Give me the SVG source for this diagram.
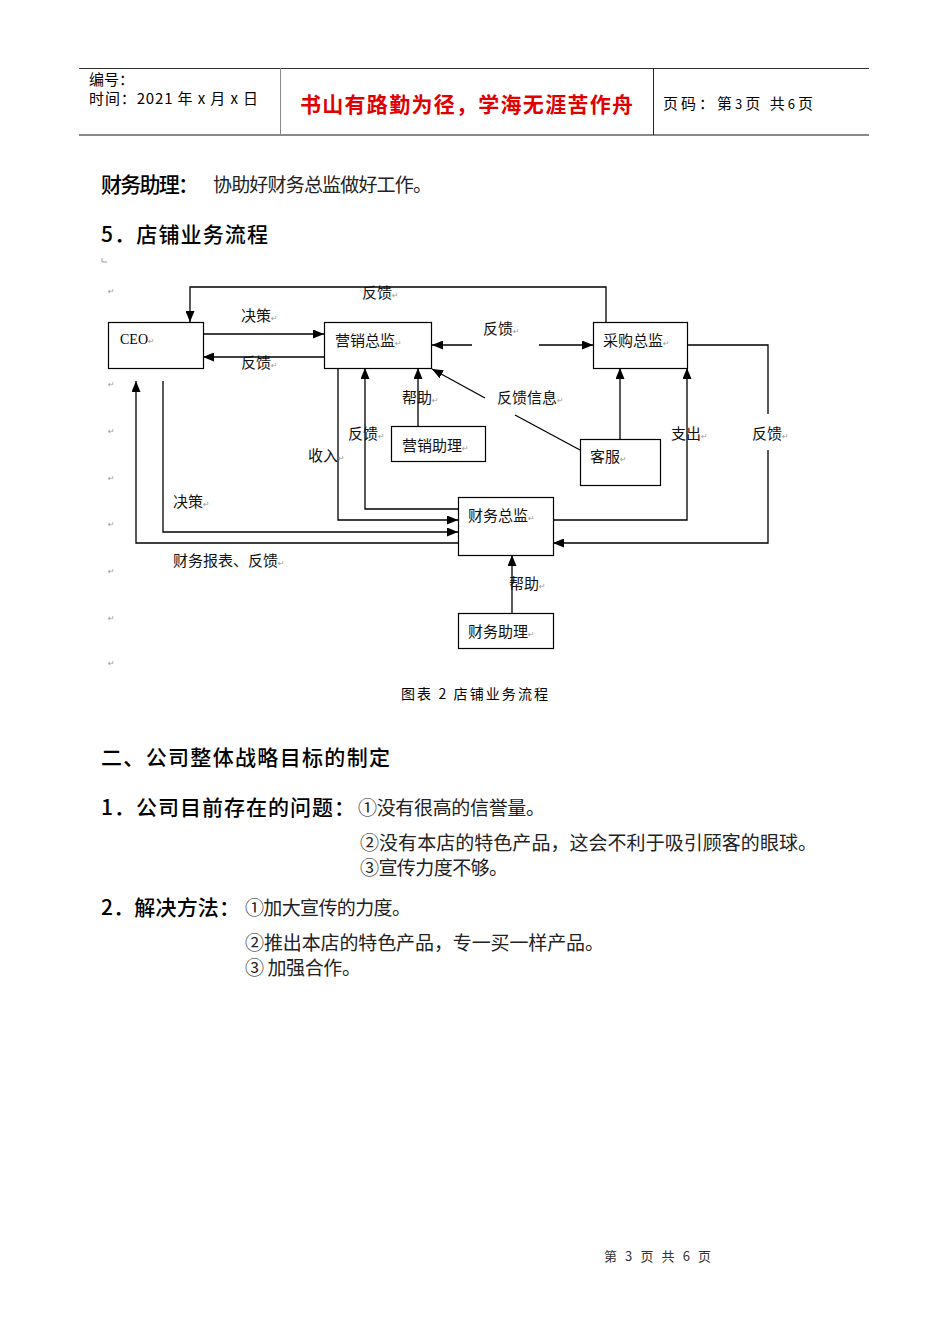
<svg xmlns="http://www.w3.org/2000/svg" width="950" height="1344" viewBox="0 0 950 1344">
<style>
.hd{font-family:"Noto Sans CJK SC","Noto Sans",sans-serif;font-size:21px;font-weight:500;fill:#000}
.bd{font-family:"Noto Sans CJK SC",sans-serif;font-size:19px;fill:#222}
.lb{font-family:"Noto Sans CJK SC",sans-serif;font-size:15px;fill:#111}
.pm{font-family:"DejaVu Sans",sans-serif;font-size:8px;fill:#999}
.box{fill:#fff;stroke:#000;stroke-width:1.2}
.cn{fill:none;stroke:#000;stroke-width:1.3}
.ar{marker-end:url(#arr)}
</style>
<defs>
<marker id="arr" markerUnits="userSpaceOnUse" markerWidth="11" markerHeight="9" refX="11" refY="4.5" orient="auto">
<path d="M0,0 L11,4.5 L0,9 z" fill="#000"/>
</marker>
</defs>
<rect width="950" height="1344" fill="#fff"/>

<g id="header">
<line x1="79" y1="68.5" x2="869" y2="68.5" stroke="#333" stroke-width="1"/>
<line x1="79" y1="135" x2="869" y2="135" stroke="#888" stroke-width="2"/>
<line x1="280.5" y1="68" x2="280.5" y2="135" stroke="#888" stroke-width="1"/>
<line x1="653.5" y1="68" x2="653.5" y2="135" stroke="#222" stroke-width="1"/>
<text x="89" y="85" font-family="Noto Sans CJK SC,sans-serif" font-size="15">编号：</text>
<text x="89" y="104" font-family="Noto Sans CJK SC,sans-serif" font-size="15" textLength="169">时间：2021 年 x 月 x 日</text>
<text x="300" y="112" font-family="Noto Sans CJK SC,sans-serif" font-size="21" font-weight="bold" fill="#e00000" textLength="333">书山有路勤为径，学海无涯苦作舟</text>
<text x="663" y="109" font-family="Noto Sans CJK SC,sans-serif" font-size="15" textLength="150">页码：第<tspan font-size="13">3</tspan>页 共<tspan font-size="13">6</tspan>页</text>
</g>

<g id="intro">
<text x="101" y="192" class="hd" textLength="98">财务助理：</text>
<text x="213" y="192" class="bd" textLength="219">协助好财务总监做好工作。</text>
<text x="101" y="242" class="hd" textLength="167">5．店铺业务流程</text>
<path d="M102,258 V262 H107" fill="none" stroke="#999" stroke-width="1"/>
</g>

<g id="para-marks">
<text x="108" y="294" class="pm">↵</text>
<text x="108" y="387" class="pm">↵</text>
<text x="108" y="434" class="pm">↵</text>
<text x="108" y="481" class="pm">↵</text>
<text x="108" y="527" class="pm">↵</text>
<text x="108" y="574" class="pm">↵</text>
<text x="108" y="621" class="pm">↵</text>
<text x="108" y="666" class="pm">↵</text>
</g>

<g id="connectors">
<path class="cn ar" d="M606,322 V287 H190 V322"/>
<path class="cn ar" d="M203,334 H324"/>
<path class="cn ar" d="M324,357 H203"/>
<path class="cn ar" d="M472,345 H432"/>
<path class="cn ar" d="M539,345 H593"/>
<path class="cn ar" d="M418,426 V368"/>
<path class="cn ar" d="M620,439 V368"/>
<path class="cn ar" d="M485,398 L432,369"/>
<path class="cn" d="M580,450 L515,415"/>
<path class="cn ar" d="M553,520 H687 V368"/>
<path class="cn" d="M687,345 H768 V414"/>
<path class="cn ar" d="M768,450 V543 H553"/>
<path class="cn ar" d="M338,368 V520 H458"/>
<path class="cn ar" d="M458,509 H365 V368"/>
<path class="cn ar" d="M163,381 V532 H458"/>
<path class="cn ar" d="M458,543 H136 V381"/>
<path class="cn ar" d="M512,613 V555"/>
</g>

<g id="edge-labels">
<text x="362" y="298" class="lb">反馈<tspan class="pm">↵</tspan></text>
<text x="241" y="321" class="lb">决策<tspan class="pm">↵</tspan></text>
<text x="241" y="368" class="lb">反馈<tspan class="pm">↵</tspan></text>
<text x="483" y="334" class="lb">反馈<tspan class="pm">↵</tspan></text>
<text x="402" y="403" class="lb">帮助<tspan class="pm">↵</tspan></text>
<text x="497" y="403" class="lb">反馈信息<tspan class="pm">↵</tspan></text>
<text x="348" y="439" class="lb">反馈<tspan class="pm">↵</tspan></text>
<text x="308" y="461" class="lb">收入<tspan class="pm">↵</tspan></text>
<text x="173" y="507" class="lb">决策<tspan class="pm">↵</tspan></text>
<text x="173" y="566" class="lb">财务报表、反馈<tspan class="pm">↵</tspan></text>
<text x="671" y="439" class="lb">支出<tspan class="pm">↵</tspan></text>
<text x="752" y="439" class="lb">反馈<tspan class="pm">↵</tspan></text>
<text x="509" y="589" class="lb">帮助<tspan class="pm">↵</tspan></text>
</g>

<g id="node-ceo">
<rect class="box" x="108.5" y="322.5" width="95" height="46"/>
<text x="120" y="344" font-family="Liberation Serif,serif" font-size="14">CEO<tspan class="pm">↵</tspan></text>
</g>
<g id="node-marketing">
<rect class="box" x="324.5" y="322.5" width="107" height="46"/>
<text x="335" y="346" class="lb">营销总监<tspan class="pm">↵</tspan></text>
</g>
<g id="node-purchasing">
<rect class="box" x="593.5" y="322.5" width="94" height="46"/>
<text x="603" y="346" class="lb">采购总监<tspan class="pm">↵</tspan></text>
</g>
<g id="node-marketing-assistant">
<rect class="box" x="391.5" y="426.5" width="94" height="35"/>
<text x="402" y="451" class="lb">营销助理<tspan class="pm">↵</tspan></text>
</g>
<g id="node-service">
<rect class="box" x="580.5" y="439.5" width="80" height="46"/>
<text x="590" y="462" class="lb">客服<tspan class="pm">↵</tspan></text>
</g>
<g id="node-finance">
<rect class="box" x="458.5" y="497.5" width="95" height="58"/>
<text x="468" y="521" class="lb">财务总监<tspan class="pm">↵</tspan></text>
</g>
<g id="node-finance-assistant">
<rect class="box" x="458.5" y="613.5" width="95" height="35"/>
<text x="468" y="637" class="lb">财务助理<tspan class="pm">↵</tspan></text>
</g>

<g id="caption">
<text x="401" y="699" font-family="Noto Sans CJK SC,sans-serif" font-size="14" textLength="147">图表 2 店铺业务流程</text>
</g>

<g id="section2">
<text x="101" y="765" class="hd" textLength="289">二、公司整体战略目标的制定</text>
<text x="101" y="815" class="hd" textLength="254">1．公司目前存在的问题：</text>
<text x="358" y="815" class="bd" textLength="187">①没有很高的信誉量。</text>
<text x="360" y="850" class="bd" textLength="457">②没有本店的特色产品，这会不利于吸引顾客的眼球。</text>
<text x="360" y="875" class="bd" textLength="148">③宣传力度不够。</text>
<text x="101" y="915" class="hd" textLength="139">2．解决方法：</text>
<text x="245" y="915" class="bd" textLength="166">①加大宣传的力度。</text>
<text x="245" y="950" class="bd" textLength="359">②推出本店的特色产品，专一买一样产品。</text>
<text x="245" y="975" class="bd" textLength="116">③ 加强合作。</text>
</g>

<g id="footer">
<text x="604" y="1261" font-family="Noto Sans CJK SC,sans-serif" font-size="13" fill="#333" textLength="107">第 3 页 共 6 页</text>
</g>
</svg>
